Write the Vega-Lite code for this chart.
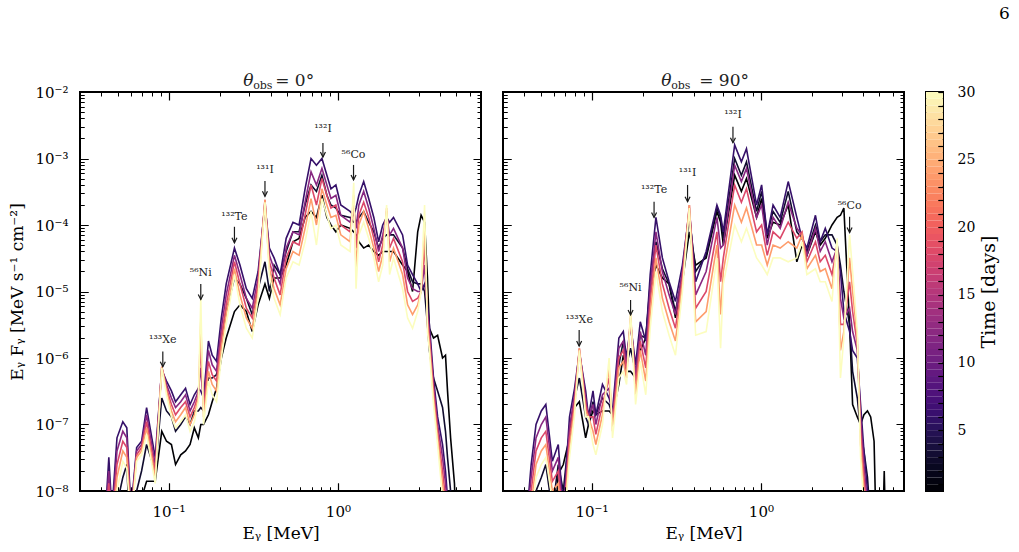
{
"$schema":"https://vega.github.io/schema/vega-lite/v6.json",
"padding":{"left":7,"top":5,"right":5,"bottom":5},
"title":{"text":"6","anchor":"end","font":"DejaVu Serif","fontSize":17,"fontWeight":"normal","color":"black","offset":48,"dx":10},
"config":{"view":{"stroke":"black","strokeWidth":2},"font":"DejaVu Serif","axis":{"domain":false,"labelColor":"black","titleColor":"black","labelFont":"DejaVu Serif","titleFont":"DejaVu Serif","titleFontWeight":"normal"}},
"spacing":22,
"bounds":"flush",
"datasets":{
"L":[
{"t":0.5,"e":0.042,"f":3e-10},{"t":3,"e":0.042,"f":3e-10},{"t":6,"e":0.042,"f":3e-9},{"t":12,"e":0.042,"f":3e-9},{"t":18,"e":0.042,"f":3e-9},{"t":24,"e":0.042,"f":3e-9},{"t":30,"e":0.042,"f":3e-9},
{"t":6,"e":0.0444,"f":3.2e-8},{"t":12,"e":0.0444,"f":2e-8},{"t":18,"e":0.0444,"f":1.3e-8},{"t":24,"e":0.0444,"f":7.9e-9},{"t":30,"e":0.0444,"f":5e-9},
{"t":6,"e":0.0463,"f":5e-9},{"t":12,"e":0.0463,"f":4e-9},{"t":18,"e":0.0463,"f":3.2e-9},{"t":24,"e":0.0463,"f":2.5e-9},{"t":30,"e":0.0463,"f":2e-9},
{"t":3,"e":0.0496,"f":6.3e-9},{"t":6,"e":0.0496,"f":6.3e-8},{"t":12,"e":0.0496,"f":4e-8},{"t":18,"e":0.0496,"f":2.5e-8},{"t":24,"e":0.0496,"f":1.6e-8},{"t":30,"e":0.0496,"f":1e-8},
{"t":3,"e":0.0537,"f":1.6e-8},{"t":6,"e":0.0537,"f":1.1e-7},{"t":12,"e":0.0537,"f":7.9e-8},{"t":18,"e":0.0537,"f":5.6e-8},{"t":24,"e":0.0537,"f":4e-8},{"t":30,"e":0.0537,"f":2.8e-8},
{"t":3,"e":0.0567,"f":2.5e-8},{"t":6,"e":0.0567,"f":8.9e-8},{"t":12,"e":0.0567,"f":6.3e-8},{"t":18,"e":0.0567,"f":4.5e-8},{"t":24,"e":0.0567,"f":3.2e-8},{"t":30,"e":0.0567,"f":2.2e-8},
{"t":3,"e":0.06,"f":1e-9},{"t":6,"e":0.06,"f":5e-9},{"t":12,"e":0.06,"f":4.5e-9},{"t":18,"e":0.06,"f":4e-9},{"t":24,"e":0.06,"f":3.5e-9},{"t":30,"e":0.06,"f":3.2e-9},
{"t":0.5,"e":0.0648,"f":1e-9},{"t":3,"e":0.0648,"f":1e-8},{"t":6,"e":0.0648,"f":4.5e-8},{"t":12,"e":0.0648,"f":4e-8},{"t":18,"e":0.0648,"f":3.5e-8},{"t":24,"e":0.0648,"f":3.2e-8},{"t":30,"e":0.0648,"f":2.8e-8},
{"t":0.5,"e":0.0693,"f":7.9e-9},{"t":3,"e":0.0693,"f":2e-8},{"t":6,"e":0.0693,"f":5.6e-8},{"t":12,"e":0.0693,"f":5e-8},{"t":18,"e":0.0693,"f":4.5e-8},{"t":24,"e":0.0693,"f":4e-8},{"t":30,"e":0.0693,"f":3.5e-8},
{"t":0.5,"e":0.0742,"f":1.4e-8},{"t":3,"e":0.0742,"f":5e-8},{"t":6,"e":0.0742,"f":1.8e-7},{"t":12,"e":0.0742,"f":1.4e-7},{"t":18,"e":0.0742,"f":1.1e-7},{"t":24,"e":0.0742,"f":8.9e-8},{"t":30,"e":0.0742,"f":7.1e-8},
{"t":0.5,"e":0.0834,"f":1.4e-8},{"t":3,"e":0.0834,"f":2e-8},{"t":6,"e":0.0834,"f":3.2e-8},{"t":12,"e":0.0834,"f":2.5e-8},{"t":18,"e":0.0834,"f":2e-8},{"t":24,"e":0.0834,"f":1.6e-8},{"t":30,"e":0.0834,"f":1.3e-8},
{"t":0.5,"e":0.0912,"f":7.9e-8},{"t":3,"e":0.0912,"f":2.5e-7},{"t":6,"e":0.0912,"f":6.6e-7},{"t":12,"e":0.0912,"f":7.1e-7},{"t":18,"e":0.0912,"f":7.4e-7},{"t":24,"e":0.0912,"f":7.4e-7},{"t":30,"e":0.0912,"f":7.1e-7},
{"t":0.5,"e":0.0973,"f":5.6e-8},{"t":3,"e":0.0973,"f":1.6e-7},{"t":6,"e":0.0973,"f":4.5e-7},{"t":12,"e":0.0973,"f":4e-7},{"t":18,"e":0.0973,"f":3.5e-7},{"t":24,"e":0.0973,"f":3.2e-7},{"t":30,"e":0.0973,"f":2.8e-7},
{"t":0.5,"e":0.104,"f":5e-8},{"t":3,"e":0.104,"f":1.3e-7},{"t":6,"e":0.104,"f":3.2e-7},{"t":12,"e":0.104,"f":2.5e-7},{"t":18,"e":0.104,"f":2e-7},{"t":24,"e":0.104,"f":1.6e-7},{"t":30,"e":0.104,"f":1.3e-7},
{"t":0.5,"e":0.11,"f":2.5e-8},{"t":3,"e":0.11,"f":7.9e-8},{"t":6,"e":0.11,"f":2.2e-7},{"t":12,"e":0.11,"f":1.8e-7},{"t":18,"e":0.11,"f":1.4e-7},{"t":24,"e":0.11,"f":1.1e-7},{"t":30,"e":0.11,"f":8.9e-8},
{"t":0.5,"e":0.118,"f":3.5e-8},{"t":3,"e":0.118,"f":1e-7},{"t":6,"e":0.118,"f":2.8e-7},{"t":12,"e":0.118,"f":2.2e-7},{"t":18,"e":0.118,"f":1.8e-7},{"t":24,"e":0.118,"f":1.4e-7},{"t":30,"e":0.118,"f":1.1e-7},
{"t":0.5,"e":0.126,"f":4e-8},{"t":3,"e":0.126,"f":1.3e-7},{"t":6,"e":0.126,"f":3.5e-7},{"t":12,"e":0.126,"f":2.8e-7},{"t":18,"e":0.126,"f":2.2e-7},{"t":24,"e":0.126,"f":1.8e-7},{"t":30,"e":0.126,"f":1.4e-7},
{"t":0.5,"e":0.134,"f":5e-8},{"t":3,"e":0.134,"f":1e-7},{"t":6,"e":0.134,"f":2e-7},{"t":12,"e":0.134,"f":1.6e-7},{"t":18,"e":0.134,"f":1.3e-7},{"t":24,"e":0.134,"f":1e-7},{"t":30,"e":0.134,"f":7.9e-8},
{"t":0.5,"e":0.142,"f":8.9e-8},{"t":3,"e":0.142,"f":1.6e-7},{"t":6,"e":0.142,"f":2.8e-7},{"t":12,"e":0.142,"f":2.2e-7},{"t":18,"e":0.142,"f":1.8e-7},{"t":24,"e":0.142,"f":1.4e-7},{"t":30,"e":0.142,"f":1.1e-7},
{"t":0.5,"e":0.15,"f":6.3e-8},{"t":3,"e":0.15,"f":1.6e-7},{"t":6,"e":0.15,"f":3.5e-7},{"t":12,"e":0.15,"f":3.2e-7},{"t":18,"e":0.15,"f":2.8e-7},{"t":24,"e":0.15,"f":2.5e-7},{"t":30,"e":0.15,"f":2.2e-7},
{"t":0.5,"e":0.155,"f":1e-7},{"t":3,"e":0.155,"f":1.8e-7},{"t":6,"e":0.155,"f":3.2e-7},{"t":12,"e":0.155,"f":7.1e-7},{"t":18,"e":0.155,"f":1.6e-6},{"t":24,"e":0.155,"f":3.5e-6},{"t":30,"e":0.155,"f":7.9e-6},
{"t":0.5,"e":0.161,"f":1e-7},{"t":3,"e":0.161,"f":1.6e-7},{"t":6,"e":0.161,"f":2.5e-7},{"t":12,"e":0.161,"f":2e-7},{"t":18,"e":0.161,"f":1.6e-7},{"t":24,"e":0.161,"f":1.3e-7},{"t":30,"e":0.161,"f":1e-7},
{"t":0.5,"e":0.172,"f":1.4e-7},{"t":3,"e":0.172,"f":5e-7},{"t":6,"e":0.172,"f":1.8e-6},{"t":12,"e":0.172,"f":1.3e-6},{"t":18,"e":0.172,"f":8.9e-7},{"t":24,"e":0.172,"f":6.3e-7},{"t":30,"e":0.172,"f":4.5e-7},
{"t":0.5,"e":0.181,"f":2.2e-7},{"t":3,"e":0.181,"f":5e-7},{"t":6,"e":0.181,"f":1.1e-6},{"t":12,"e":0.181,"f":7.9e-7},{"t":18,"e":0.181,"f":5.6e-7},{"t":24,"e":0.181,"f":4e-7},{"t":30,"e":0.181,"f":2.8e-7},
{"t":0.5,"e":0.192,"f":3.5e-7},{"t":3,"e":0.192,"f":5.6e-7},{"t":6,"e":0.192,"f":8.9e-7},{"t":12,"e":0.192,"f":6.3e-7},{"t":18,"e":0.192,"f":4.5e-7},{"t":24,"e":0.192,"f":3.2e-7},{"t":30,"e":0.192,"f":2.2e-7},
{"t":0.5,"e":0.205,"f":1e-6},{"t":3,"e":0.205,"f":2e-6},{"t":6,"e":0.205,"f":4e-6},{"t":12,"e":0.205,"f":2.8e-6},{"t":18,"e":0.205,"f":2e-6},{"t":24,"e":0.205,"f":1.4e-6},{"t":30,"e":0.205,"f":1e-6},
{"t":0.5,"e":0.219,"f":2e-6},{"t":3,"e":0.219,"f":5e-6},{"t":6,"e":0.219,"f":1.3e-5},{"t":12,"e":0.219,"f":8.9e-6},{"t":18,"e":0.219,"f":6.3e-6},{"t":24,"e":0.219,"f":4.5e-6},{"t":30,"e":0.219,"f":3.2e-6},
{"t":0.5,"e":0.245,"f":5e-6},{"t":3,"e":0.245,"f":1.6e-5},{"t":6,"e":0.245,"f":4.5e-5},{"t":12,"e":0.245,"f":3.5e-5},{"t":18,"e":0.245,"f":2.8e-5},{"t":24,"e":0.245,"f":2.2e-5},{"t":30,"e":0.245,"f":1.8e-5},
{"t":0.5,"e":0.264,"f":6.3e-6},{"t":3,"e":0.264,"f":1.3e-5},{"t":6,"e":0.264,"f":2.5e-5},{"t":12,"e":0.264,"f":1.8e-5},{"t":18,"e":0.264,"f":1.3e-5},{"t":24,"e":0.264,"f":8.9e-6},{"t":30,"e":0.264,"f":6.3e-6},
{"t":0.5,"e":0.288,"f":5e-6},{"t":3,"e":0.288,"f":7.9e-6},{"t":6,"e":0.288,"f":1.1e-5},{"t":12,"e":0.288,"f":7.9e-6},{"t":18,"e":0.288,"f":5.6e-6},{"t":24,"e":0.288,"f":4e-6},{"t":30,"e":0.288,"f":2.8e-6},
{"t":0.5,"e":0.312,"f":2.5e-6},{"t":3,"e":0.312,"f":4.5e-6},{"t":6,"e":0.312,"f":7.9e-6},{"t":12,"e":0.312,"f":5.6e-6},{"t":18,"e":0.312,"f":4e-6},{"t":24,"e":0.312,"f":2.8e-6},{"t":30,"e":0.312,"f":2e-6},
{"t":0.5,"e":0.338,"f":6.3e-6},{"t":3,"e":0.338,"f":1.1e-5},{"t":6,"e":0.338,"f":2e-5},{"t":12,"e":0.338,"f":1.6e-5},{"t":18,"e":0.338,"f":1.3e-5},{"t":24,"e":0.338,"f":1e-5},{"t":30,"e":0.338,"f":7.9e-6},
{"t":0.5,"e":0.371,"f":1.3e-5},{"t":3,"e":0.371,"f":2.8e-5},{"t":6,"e":0.371,"f":2e-4},{"t":12,"e":0.371,"f":2.2e-4},{"t":18,"e":0.371,"f":2.4e-4},{"t":24,"e":0.371,"f":2.4e-4},{"t":30,"e":0.371,"f":2.2e-4},
{"t":0.5,"e":0.394,"f":7.9e-6},{"t":3,"e":0.394,"f":1e-5},{"t":6,"e":0.394,"f":4.5e-5},{"t":12,"e":0.394,"f":3.5e-5},{"t":18,"e":0.394,"f":2.8e-5},{"t":24,"e":0.394,"f":2.2e-5},{"t":30,"e":0.394,"f":1.8e-5},
{"t":0.5,"e":0.42,"f":1.6e-5},{"t":3,"e":0.42,"f":2.5e-5},{"t":6,"e":0.42,"f":3.2e-5},{"t":12,"e":0.42,"f":2.2e-5},{"t":18,"e":0.42,"f":1.6e-5},{"t":24,"e":0.42,"f":1.1e-5},{"t":30,"e":0.42,"f":7.9e-6},
{"t":0.5,"e":0.456,"f":1.6e-5},{"t":3,"e":0.456,"f":1.8e-5},{"t":6,"e":0.456,"f":1.8e-5},{"t":12,"e":0.456,"f":1.3e-5},{"t":18,"e":0.456,"f":8.9e-6},{"t":24,"e":0.456,"f":6.3e-6},{"t":30,"e":0.456,"f":4.5e-6},
{"t":0.5,"e":0.495,"f":2.5e-5},{"t":3,"e":0.495,"f":4e-5},{"t":6,"e":0.495,"f":6.3e-5},{"t":12,"e":0.495,"f":4.5e-5},{"t":18,"e":0.495,"f":3.2e-5},{"t":24,"e":0.495,"f":2.2e-5},{"t":30,"e":0.495,"f":1.6e-5},
{"t":0.5,"e":0.543,"f":5.6e-5},{"t":3,"e":0.543,"f":7.9e-5},{"t":6,"e":0.543,"f":1.1e-4},{"t":12,"e":0.543,"f":7.9e-5},{"t":18,"e":0.543,"f":5.6e-5},{"t":24,"e":0.543,"f":4e-5},{"t":30,"e":0.543,"f":2.8e-5},
{"t":0.5,"e":0.59,"f":6.3e-5},{"t":3,"e":0.59,"f":7.9e-5},{"t":6,"e":0.59,"f":1e-4},{"t":12,"e":0.59,"f":7.1e-5},{"t":18,"e":0.59,"f":5e-5},{"t":24,"e":0.59,"f":3.5e-5},{"t":30,"e":0.59,"f":2.5e-5},
{"t":0.5,"e":0.64,"f":1.3e-4},{"t":3,"e":0.64,"f":2e-4},{"t":6,"e":0.64,"f":3.5e-4},{"t":12,"e":0.64,"f":2.2e-4},{"t":18,"e":0.64,"f":1.4e-4},{"t":24,"e":0.64,"f":8.9e-5},{"t":30,"e":0.64,"f":5.6e-5},
{"t":0.5,"e":0.694,"f":1.6e-4},{"t":3,"e":0.694,"f":4e-4},{"t":6,"e":0.694,"f":1e-3},{"t":12,"e":0.694,"f":6.3e-4},{"t":18,"e":0.694,"f":4e-4},{"t":24,"e":0.694,"f":2.5e-4},{"t":30,"e":0.694,"f":1.6e-4},
{"t":0.5,"e":0.747,"f":1.3e-4},{"t":3,"e":0.747,"f":3.2e-4},{"t":6,"e":0.747,"f":7.9e-4},{"t":12,"e":0.747,"f":4e-4},{"t":18,"e":0.747,"f":2e-4},{"t":24,"e":0.747,"f":1e-4},{"t":30,"e":0.747,"f":5e-5},
{"t":0.5,"e":0.805,"f":2.8e-4},{"t":3,"e":0.805,"f":5.6e-4},{"t":6,"e":0.805,"f":1e-3},{"t":12,"e":0.805,"f":7.1e-4},{"t":18,"e":0.805,"f":5e-4},{"t":24,"e":0.805,"f":3.5e-4},{"t":30,"e":0.805,"f":2.5e-4},
{"t":0.5,"e":0.861,"f":1.3e-4},{"t":3,"e":0.861,"f":2.8e-4},{"t":6,"e":0.861,"f":5.6e-4},{"t":12,"e":0.861,"f":4e-4},{"t":18,"e":0.861,"f":2.8e-4},{"t":24,"e":0.861,"f":2e-4},{"t":30,"e":0.861,"f":1.4e-4},
{"t":0.5,"e":0.91,"f":1e-4},{"t":3,"e":0.91,"f":2e-4},{"t":6,"e":0.91,"f":3.5e-4},{"t":12,"e":0.91,"f":2.5e-4},{"t":18,"e":0.91,"f":1.8e-4},{"t":24,"e":0.91,"f":1.3e-4},{"t":30,"e":0.91,"f":8.9e-5},
{"t":0.5,"e":0.973,"f":7.9e-5},{"t":3,"e":0.973,"f":1.8e-4},{"t":6,"e":0.973,"f":4e-4},{"t":12,"e":0.973,"f":2.8e-4},{"t":18,"e":0.973,"f":2e-4},{"t":24,"e":0.973,"f":1.4e-4},{"t":30,"e":0.973,"f":1e-4},
{"t":0.5,"e":1.04,"f":1e-4},{"t":3,"e":1.04,"f":1.4e-4},{"t":6,"e":1.04,"f":2e-4},{"t":12,"e":1.04,"f":1.4e-4},{"t":18,"e":1.04,"f":1e-4},{"t":24,"e":1.04,"f":7.1e-5},{"t":30,"e":1.04,"f":5e-5},
{"t":0.5,"e":1.18,"f":8.9e-5},{"t":3,"e":1.18,"f":1.3e-4},{"t":6,"e":1.18,"f":1.6e-4},{"t":12,"e":1.18,"f":1.1e-4},{"t":18,"e":1.18,"f":7.9e-5},{"t":24,"e":1.18,"f":5.6e-5},{"t":30,"e":1.18,"f":4e-5},
{"t":0.5,"e":1.24,"f":7.9e-5},{"t":3,"e":1.24,"f":1.1e-4},{"t":6,"e":1.24,"f":1.4e-4},{"t":12,"e":1.24,"f":1.8e-4},{"t":18,"e":1.24,"f":2.2e-4},{"t":24,"e":1.24,"f":2.8e-4},{"t":30,"e":1.24,"f":4.3e-4},
{"t":0.5,"e":1.28,"f":7.1e-5},{"t":3,"e":1.28,"f":1.1e-4},{"t":6,"e":1.28,"f":1.8e-4},{"t":12,"e":1.28,"f":8.9e-5},{"t":18,"e":1.28,"f":4.5e-5},{"t":24,"e":1.28,"f":2.2e-5},{"t":30,"e":1.28,"f":1.1e-5},
{"t":0.5,"e":1.33,"f":5.6e-5},{"t":3,"e":1.33,"f":1.3e-4},{"t":6,"e":1.33,"f":2.8e-4},{"t":12,"e":1.33,"f":2e-4},{"t":18,"e":1.33,"f":1.4e-4},{"t":24,"e":1.33,"f":1e-4},{"t":30,"e":1.33,"f":7.1e-5},
{"t":0.5,"e":1.42,"f":4.5e-5},{"t":3,"e":1.42,"f":1.6e-4},{"t":6,"e":1.42,"f":4.5e-4},{"t":12,"e":1.42,"f":3.2e-4},{"t":18,"e":1.42,"f":2.2e-4},{"t":24,"e":1.42,"f":1.6e-4},{"t":30,"e":1.42,"f":1.1e-4},
{"t":0.5,"e":1.52,"f":5e-5},{"t":3,"e":1.52,"f":1.1e-4},{"t":6,"e":1.52,"f":2.5e-4},{"t":12,"e":1.52,"f":1.8e-4},{"t":18,"e":1.52,"f":1.3e-4},{"t":24,"e":1.52,"f":8.9e-5},{"t":30,"e":1.52,"f":6.3e-5},
{"t":0.5,"e":1.63,"f":4e-5},{"t":3,"e":1.63,"f":7.9e-5},{"t":6,"e":1.63,"f":1.3e-4},{"t":12,"e":1.63,"f":8.9e-5},{"t":18,"e":1.63,"f":6.3e-5},{"t":24,"e":1.63,"f":4.5e-5},{"t":30,"e":1.63,"f":3.2e-5},
{"t":0.5,"e":1.74,"f":3.5e-5},{"t":3,"e":1.74,"f":4.5e-5},{"t":6,"e":1.74,"f":5.6e-5},{"t":12,"e":1.74,"f":4e-5},{"t":18,"e":1.74,"f":2.8e-5},{"t":24,"e":1.74,"f":2e-5},{"t":30,"e":1.74,"f":1.4e-5},
{"t":0.5,"e":1.84,"f":4e-5},{"t":3,"e":1.84,"f":6.3e-5},{"t":6,"e":1.84,"f":1e-4},{"t":12,"e":1.84,"f":7.1e-5},{"t":18,"e":1.84,"f":5e-5},{"t":24,"e":1.84,"f":3.5e-5},{"t":30,"e":1.84,"f":2.5e-5},
{"t":0.5,"e":1.94,"f":4e-5},{"t":3,"e":1.94,"f":7.1e-5},{"t":6,"e":1.94,"f":1.3e-4},{"t":12,"e":1.94,"f":1.4e-4},{"t":18,"e":1.94,"f":1.6e-4},{"t":24,"e":1.94,"f":1.8e-4},{"t":30,"e":1.94,"f":2e-4},
{"t":0.5,"e":2.02,"f":4e-5},{"t":3,"e":2.02,"f":7.1e-5},{"t":6,"e":2.02,"f":1.1e-4},{"t":12,"e":2.02,"f":7.1e-5},{"t":18,"e":2.02,"f":4.5e-5},{"t":24,"e":2.02,"f":2.8e-5},{"t":30,"e":2.02,"f":1.8e-5},
{"t":0.5,"e":2.13,"f":4e-5},{"t":3,"e":2.13,"f":7.1e-5},{"t":6,"e":2.13,"f":1.3e-4},{"t":12,"e":2.13,"f":8.9e-5},{"t":18,"e":2.13,"f":6.3e-5},{"t":24,"e":2.13,"f":4.5e-5},{"t":30,"e":2.13,"f":3.2e-5},
{"t":0.5,"e":2.41,"f":2.5e-5},{"t":3,"e":2.41,"f":4.5e-5},{"t":6,"e":2.41,"f":7.1e-5},{"t":12,"e":2.41,"f":4.5e-5},{"t":18,"e":2.41,"f":2.8e-5},{"t":24,"e":2.41,"f":1.8e-5},{"t":30,"e":2.41,"f":1.1e-5},
{"t":0.5,"e":2.58,"f":2e-5},{"t":3,"e":2.58,"f":2.2e-5},{"t":6,"e":2.58,"f":2.5e-5},{"t":12,"e":2.58,"f":1.6e-5},{"t":18,"e":2.58,"f":1e-5},{"t":24,"e":2.58,"f":6.3e-6},{"t":30,"e":2.58,"f":4e-6},
{"t":0.5,"e":2.76,"f":1e-5},{"t":3,"e":2.76,"f":1.4e-5},{"t":6,"e":2.76,"f":1.8e-5},{"t":12,"e":2.76,"f":1.1e-5},{"t":18,"e":2.76,"f":7.1e-6},{"t":24,"e":2.76,"f":4.5e-6},{"t":30,"e":2.76,"f":2.8e-6},
{"t":0.5,"e":2.96,"f":7.9e-5},{"t":3,"e":2.96,"f":1.3e-5},{"t":6,"e":2.96,"f":1.3e-5},{"t":12,"e":2.96,"f":1e-5},{"t":18,"e":2.96,"f":7.9e-6},{"t":24,"e":2.96,"f":6.3e-6},{"t":30,"e":2.96,"f":5e-6},
{"t":0.5,"e":3.1,"f":1.4e-4},{"t":3,"e":3.1,"f":1.3e-5},{"t":6,"e":3.1,"f":1e-5},{"t":12,"e":3.1,"f":1e-5},{"t":18,"e":3.1,"f":1e-5},{"t":24,"e":3.1,"f":1e-5},{"t":30,"e":3.1,"f":1e-5},
{"t":0.5,"e":3.25,"f":1.1e-4},{"t":3,"e":3.25,"f":1e-5},{"t":6,"e":3.25,"f":1.3e-5},{"t":12,"e":3.25,"f":2.5e-5},{"t":18,"e":3.25,"f":5e-5},{"t":24,"e":3.25,"f":1e-4},{"t":30,"e":3.25,"f":2e-4},
{"t":0.5,"e":3.38,"f":1.6e-5},{"t":3,"e":3.38,"f":3.2e-6},{"t":6,"e":3.38,"f":6.3e-6},{"t":12,"e":3.38,"f":5e-6},{"t":18,"e":3.38,"f":4e-6},{"t":24,"e":3.38,"f":3.2e-6},{"t":30,"e":3.38,"f":2.5e-6},
{"t":0.5,"e":3.47,"f":2.8e-6},{"t":3,"e":3.47,"f":1.3e-6},{"t":6,"e":3.47,"f":3.2e-6},{"t":12,"e":3.47,"f":2.5e-6},{"t":18,"e":3.47,"f":2e-6},{"t":24,"e":3.47,"f":1.6e-6},{"t":30,"e":3.47,"f":1.3e-6},
{"t":0.5,"e":3.67,"f":2e-6},{"t":3,"e":3.67,"f":5e-7},{"t":6,"e":3.67,"f":5e-7},{"t":12,"e":3.67,"f":4e-7},{"t":18,"e":3.67,"f":3.2e-7},{"t":24,"e":3.67,"f":2.5e-7},{"t":30,"e":3.67,"f":2e-7},
{"t":0.5,"e":3.88,"f":2.2e-6},{"t":3,"e":3.88,"f":3.2e-7},{"t":6,"e":3.88,"f":1.3e-7},{"t":12,"e":3.88,"f":1e-7},{"t":18,"e":3.88,"f":7.9e-8},{"t":24,"e":3.88,"f":6.3e-8},{"t":30,"e":3.88,"f":5e-8},
{"t":0.5,"e":4.15,"f":1e-6},{"t":3,"e":4.15,"f":1.8e-7},{"t":6,"e":4.15,"f":5e-8},{"t":12,"e":4.15,"f":3.2e-8},{"t":18,"e":4.15,"f":2e-8},{"t":24,"e":4.15,"f":1.3e-8},{"t":30,"e":4.15,"f":7.9e-9},
{"t":0.5,"e":4.32,"f":1.1e-6},{"t":3,"e":4.32,"f":7.9e-8},{"t":6,"e":4.32,"f":2e-8},{"t":12,"e":4.32,"f":1.3e-8},{"t":18,"e":4.32,"f":7.9e-9},{"t":24,"e":4.32,"f":5e-9},{"t":30,"e":4.32,"f":3.2e-9},
{"t":0.5,"e":4.44,"f":3.2e-7},{"t":3,"e":4.44,"f":3.2e-8},{"t":6,"e":4.44,"f":7.9e-9},{"t":12,"e":4.44,"f":5.6e-9},{"t":18,"e":4.44,"f":4e-9},{"t":24,"e":4.44,"f":2.8e-9},{"t":30,"e":4.44,"f":2e-9},
{"t":0.5,"e":4.63,"f":6.3e-8},{"t":3,"e":4.63,"f":1e-8},
{"t":0.5,"e":4.88,"f":1.3e-8},{"t":3,"e":4.88,"f":1e-9},
{"t":0.5,"e":5.1,"f":3e-10}
],
"R":[
{"t":0.5,"e":0.041,"f":3e-10},{"t":3,"e":0.041,"f":3e-10},{"t":6,"e":0.041,"f":3e-9},{"t":12,"e":0.041,"f":3e-9},{"t":18,"e":0.041,"f":3e-9},{"t":24,"e":0.041,"f":3e-9},{"t":30,"e":0.041,"f":3e-9},
{"t":6,"e":0.044,"f":2.5e-8},{"t":12,"e":0.044,"f":1.6e-8},{"t":18,"e":0.044,"f":1e-8},{"t":24,"e":0.044,"f":6.3e-9},{"t":30,"e":0.044,"f":4e-9},
{"t":3,"e":0.047,"f":1e-8},{"t":6,"e":0.047,"f":1e-7},{"t":12,"e":0.047,"f":6.3e-8},{"t":18,"e":0.047,"f":4e-8},{"t":24,"e":0.047,"f":2.5e-8},{"t":30,"e":0.047,"f":1.6e-8},
{"t":3,"e":0.0505,"f":1.6e-8},{"t":6,"e":0.0505,"f":1.6e-7},{"t":12,"e":0.0505,"f":1e-7},{"t":18,"e":0.0505,"f":6.3e-8},{"t":24,"e":0.0505,"f":4e-8},{"t":30,"e":0.0505,"f":2.5e-8},
{"t":3,"e":0.0537,"f":2.5e-8},{"t":6,"e":0.0537,"f":2e-7},{"t":12,"e":0.0537,"f":1.3e-7},{"t":18,"e":0.0537,"f":7.9e-8},{"t":24,"e":0.0537,"f":5e-8},{"t":30,"e":0.0537,"f":3.2e-8},
{"t":0.5,"e":0.0587,"f":1e-9},{"t":3,"e":0.0587,"f":5e-9},{"t":6,"e":0.0587,"f":2.8e-8},{"t":12,"e":0.0587,"f":2e-8},{"t":18,"e":0.0587,"f":1.4e-8},{"t":24,"e":0.0587,"f":1e-8},{"t":30,"e":0.0587,"f":7.1e-9},
{"t":0.5,"e":0.0636,"f":1.8e-8},{"t":3,"e":0.0636,"f":2.5e-8},{"t":6,"e":0.0636,"f":5e-8},{"t":12,"e":0.0636,"f":3.2e-8},{"t":18,"e":0.0636,"f":2e-8},{"t":24,"e":0.0636,"f":1.3e-8},{"t":30,"e":0.0636,"f":7.9e-9},
{"t":0.5,"e":0.0681,"f":2.5e-8},{"t":3,"e":0.0681,"f":1e-8},{"t":6,"e":0.0681,"f":5e-9},{"t":12,"e":0.0681,"f":4e-9},{"t":18,"e":0.0681,"f":3.2e-9},{"t":24,"e":0.0681,"f":2.5e-9},{"t":30,"e":0.0681,"f":2e-9},
{"t":0.5,"e":0.0741,"f":6.3e-8},{"t":3,"e":0.0741,"f":7.9e-8},{"t":6,"e":0.0741,"f":1.3e-7},{"t":12,"e":0.0741,"f":8.9e-8},{"t":18,"e":0.0741,"f":6.3e-8},{"t":24,"e":0.0741,"f":4.5e-8},{"t":30,"e":0.0741,"f":3.2e-8},
{"t":0.5,"e":0.0794,"f":1.8e-7},{"t":3,"e":0.0794,"f":2.5e-7},{"t":6,"e":0.0794,"f":3.5e-7},{"t":12,"e":0.0794,"f":2.8e-7},{"t":18,"e":0.0794,"f":2.2e-7},{"t":24,"e":0.0794,"f":1.8e-7},{"t":30,"e":0.0794,"f":1.4e-7},
{"t":0.5,"e":0.0847,"f":2.2e-7},{"t":3,"e":0.0847,"f":5e-7},{"t":6,"e":0.0847,"f":1.2e-6},{"t":12,"e":0.0847,"f":1.3e-6},{"t":18,"e":0.0847,"f":1.4e-6},{"t":24,"e":0.0847,"f":1.4e-6},{"t":30,"e":0.0847,"f":1.3e-6},
{"t":0.5,"e":0.0923,"f":6.3e-8},{"t":3,"e":0.0923,"f":1.3e-7},{"t":6,"e":0.0923,"f":3.2e-7},{"t":12,"e":0.0923,"f":2.5e-7},{"t":18,"e":0.0923,"f":2e-7},{"t":24,"e":0.0923,"f":1.6e-7},{"t":30,"e":0.0923,"f":1.3e-7},
{"t":0.5,"e":0.0959,"f":1e-7},{"t":3,"e":0.0959,"f":1e-7},{"t":6,"e":0.0959,"f":1.3e-7},{"t":12,"e":0.0959,"f":1.3e-7},{"t":18,"e":0.0959,"f":1.3e-7},{"t":24,"e":0.0959,"f":1.3e-7},{"t":30,"e":0.0959,"f":1.3e-7},
{"t":0.5,"e":0.102,"f":1.6e-7},{"t":3,"e":0.102,"f":2.2e-7},{"t":6,"e":0.102,"f":3.2e-7},{"t":12,"e":0.102,"f":2e-7},{"t":18,"e":0.102,"f":1.3e-7},{"t":24,"e":0.102,"f":7.9e-8},{"t":30,"e":0.102,"f":5e-8},
{"t":0.5,"e":0.106,"f":1.4e-7},{"t":3,"e":0.106,"f":1.4e-7},{"t":6,"e":0.106,"f":1.4e-7},{"t":12,"e":0.106,"f":1e-7},{"t":18,"e":0.106,"f":7.1e-8},{"t":24,"e":0.106,"f":5e-8},{"t":30,"e":0.106,"f":3.5e-8},
{"t":0.5,"e":0.116,"f":1.6e-7},{"t":3,"e":0.116,"f":2.5e-7},{"t":6,"e":0.116,"f":4e-7},{"t":12,"e":0.116,"f":2.8e-7},{"t":18,"e":0.116,"f":2e-7},{"t":24,"e":0.116,"f":1.4e-7},{"t":30,"e":0.116,"f":1e-7},
{"t":0.5,"e":0.127,"f":1.6e-7},{"t":3,"e":0.127,"f":2e-7},{"t":6,"e":0.127,"f":2.5e-7},{"t":12,"e":0.127,"f":3.5e-7},{"t":18,"e":0.127,"f":5e-7},{"t":24,"e":0.127,"f":7.1e-7},{"t":30,"e":0.127,"f":1e-6},
{"t":0.5,"e":0.133,"f":1.4e-7},{"t":3,"e":0.133,"f":1.4e-7},{"t":6,"e":0.133,"f":1.6e-7},{"t":12,"e":0.133,"f":1.3e-7},{"t":18,"e":0.133,"f":1e-7},{"t":24,"e":0.133,"f":7.9e-8},{"t":30,"e":0.133,"f":6.3e-8},
{"t":0.5,"e":0.145,"f":4e-7},{"t":3,"e":0.145,"f":7.9e-7},{"t":6,"e":0.145,"f":2e-6},{"t":12,"e":0.145,"f":1.4e-6},{"t":18,"e":0.145,"f":1e-6},{"t":24,"e":0.145,"f":7.1e-7},{"t":30,"e":0.145,"f":5e-7},
{"t":0.5,"e":0.154,"f":1.1e-6},{"t":3,"e":0.154,"f":1.8e-6},{"t":6,"e":0.154,"f":2.5e-6},{"t":12,"e":0.154,"f":1.8e-6},{"t":18,"e":0.154,"f":1.3e-6},{"t":24,"e":0.154,"f":8.9e-7},{"t":30,"e":0.154,"f":6.3e-7},
{"t":0.5,"e":0.161,"f":6.3e-7},{"t":3,"e":0.161,"f":7.9e-7},{"t":6,"e":0.161,"f":1e-6},{"t":12,"e":0.161,"f":7.9e-7},{"t":18,"e":0.161,"f":6.3e-7},{"t":24,"e":0.161,"f":5e-7},{"t":30,"e":0.161,"f":4e-7},
{"t":0.5,"e":0.17,"f":6.3e-7},{"t":3,"e":0.17,"f":1.4e-6},{"t":6,"e":0.17,"f":3.2e-6},{"t":12,"e":0.17,"f":3.5e-6},{"t":18,"e":0.17,"f":4e-6},{"t":24,"e":0.17,"f":4.5e-6},{"t":30,"e":0.17,"f":5e-6},
{"t":0.5,"e":0.182,"f":5e-7},{"t":3,"e":0.182,"f":6.3e-7},{"t":6,"e":0.182,"f":7.9e-7},{"t":12,"e":0.182,"f":5.6e-7},{"t":18,"e":0.182,"f":4e-7},{"t":24,"e":0.182,"f":2.8e-7},{"t":30,"e":0.182,"f":2e-7},
{"t":0.5,"e":0.194,"f":1.3e-6},{"t":3,"e":0.194,"f":2.2e-6},{"t":6,"e":0.194,"f":3.5e-6},{"t":12,"e":0.194,"f":2.5e-6},{"t":18,"e":0.194,"f":1.8e-6},{"t":24,"e":0.194,"f":1.3e-6},{"t":30,"e":0.194,"f":8.9e-7},
{"t":0.5,"e":0.209,"f":2e-6},{"t":3,"e":0.209,"f":2e-6},{"t":6,"e":0.209,"f":1.8e-6},{"t":12,"e":0.209,"f":1.1e-6},{"t":18,"e":0.209,"f":7.1e-7},{"t":24,"e":0.209,"f":4.5e-7},{"t":30,"e":0.209,"f":2.8e-7},
{"t":0.5,"e":0.222,"f":1e-5},{"t":3,"e":0.222,"f":1.3e-5},{"t":6,"e":0.222,"f":1.8e-5},{"t":12,"e":0.222,"f":1.1e-5},{"t":18,"e":0.222,"f":7.1e-6},{"t":24,"e":0.222,"f":4.5e-6},{"t":30,"e":0.222,"f":2.8e-6},
{"t":0.5,"e":0.24,"f":2.5e-5},{"t":3,"e":0.24,"f":5.6e-5},{"t":6,"e":0.24,"f":1.3e-4},{"t":12,"e":0.24,"f":7.9e-5},{"t":18,"e":0.24,"f":5e-5},{"t":24,"e":0.24,"f":3.2e-5},{"t":30,"e":0.24,"f":2e-5},
{"t":0.5,"e":0.262,"f":1.6e-5},{"t":3,"e":0.262,"f":2.2e-5},{"t":6,"e":0.262,"f":3.2e-5},{"t":12,"e":0.262,"f":2e-5},{"t":18,"e":0.262,"f":1.3e-5},{"t":24,"e":0.262,"f":7.9e-6},{"t":30,"e":0.262,"f":5e-6},
{"t":0.5,"e":0.287,"f":1.3e-5},{"t":3,"e":0.287,"f":1.3e-5},{"t":6,"e":0.287,"f":1.4e-5},{"t":12,"e":0.287,"f":8.9e-6},{"t":18,"e":0.287,"f":5.6e-6},{"t":24,"e":0.287,"f":3.5e-6},{"t":30,"e":0.287,"f":2.2e-6},
{"t":0.5,"e":0.313,"f":4e-6},{"t":3,"e":0.313,"f":5e-6},{"t":6,"e":0.313,"f":7.1e-6},{"t":12,"e":0.313,"f":4.5e-6},{"t":18,"e":0.313,"f":2.8e-6},{"t":24,"e":0.313,"f":1.8e-6},{"t":30,"e":0.313,"f":1.1e-6},
{"t":0.5,"e":0.344,"f":1.4e-5},{"t":3,"e":0.344,"f":1.8e-5},{"t":6,"e":0.344,"f":2.5e-5},{"t":12,"e":0.344,"f":2e-5},{"t":18,"e":0.344,"f":1.6e-5},{"t":24,"e":0.344,"f":1.3e-5},{"t":30,"e":0.344,"f":1e-5},
{"t":0.5,"e":0.378,"f":7.9e-5},{"t":3,"e":0.378,"f":1.3e-4},{"t":6,"e":0.378,"f":1.6e-4},{"t":12,"e":0.378,"f":1.8e-4},{"t":18,"e":0.378,"f":2e-4},{"t":24,"e":0.378,"f":2e-4},{"t":30,"e":0.378,"f":1.8e-4},
{"t":0.5,"e":0.412,"f":2.5e-5},{"t":3,"e":0.412,"f":2e-5},{"t":6,"e":0.412,"f":1.4e-5},{"t":12,"e":0.412,"f":8.9e-6},{"t":18,"e":0.412,"f":5.6e-6},{"t":24,"e":0.412,"f":3.5e-6},{"t":30,"e":0.412,"f":2.2e-6},
{"t":0.5,"e":0.475,"f":3.2e-5},{"t":3,"e":0.475,"f":3.5e-5},{"t":6,"e":0.475,"f":4e-5},{"t":12,"e":0.475,"f":2e-5},{"t":18,"e":0.475,"f":1e-5},{"t":24,"e":0.475,"f":5e-6},{"t":30,"e":0.475,"f":2.5e-6},
{"t":0.5,"e":0.55,"f":1.6e-4},{"t":3,"e":0.55,"f":1.8e-4},{"t":6,"e":0.55,"f":2e-4},{"t":12,"e":0.55,"f":1.3e-4},{"t":18,"e":0.55,"f":7.9e-5},{"t":24,"e":0.55,"f":5e-5},{"t":30,"e":0.55,"f":3.2e-5},
{"t":0.5,"e":0.578,"f":1.1e-4},{"t":3,"e":0.578,"f":1.3e-4},{"t":6,"e":0.578,"f":1.4e-4},{"t":12,"e":0.578,"f":4.5e-5},{"t":18,"e":0.578,"f":1.4e-5},{"t":24,"e":0.578,"f":4.5e-6},{"t":30,"e":0.578,"f":1.4e-6},
{"t":0.5,"e":0.6,"f":5e-5},{"t":3,"e":0.6,"f":6.3e-5},{"t":6,"e":0.6,"f":7.9e-5},{"t":12,"e":0.6,"f":5e-5},{"t":18,"e":0.6,"f":3.2e-5},{"t":24,"e":0.6,"f":2e-5},{"t":30,"e":0.6,"f":1.3e-5},
{"t":0.5,"e":0.7,"f":5.6e-4},{"t":3,"e":0.7,"f":1e-3},{"t":6,"e":0.7,"f":1.6e-3},{"t":12,"e":0.7,"f":7.9e-4},{"t":18,"e":0.7,"f":4e-4},{"t":24,"e":0.7,"f":2e-4},{"t":30,"e":0.7,"f":1e-4},
{"t":0.5,"e":0.767,"f":3.2e-4},{"t":3,"e":0.767,"f":5.6e-4},{"t":6,"e":0.767,"f":8.9e-4},{"t":12,"e":0.767,"f":4.5e-4},{"t":18,"e":0.767,"f":2.2e-4},{"t":24,"e":0.767,"f":1.1e-4},{"t":30,"e":0.767,"f":5.6e-5},
{"t":0.5,"e":0.822,"f":5e-4},{"t":3,"e":0.822,"f":8.9e-4},{"t":6,"e":0.822,"f":1.4e-3},{"t":12,"e":0.822,"f":7.1e-4},{"t":18,"e":0.822,"f":3.5e-4},{"t":24,"e":0.822,"f":1.8e-4},{"t":30,"e":0.822,"f":8.9e-5},
{"t":0.5,"e":0.943,"f":1.3e-4},{"t":3,"e":0.943,"f":1.6e-4},{"t":6,"e":0.943,"f":2e-4},{"t":12,"e":0.943,"f":1.3e-4},{"t":18,"e":0.943,"f":7.9e-5},{"t":24,"e":0.943,"f":5e-5},{"t":30,"e":0.943,"f":3.2e-5},
{"t":0.5,"e":1.01,"f":2.5e-4},{"t":3,"e":1.01,"f":3.2e-4},{"t":6,"e":1.01,"f":4e-4},{"t":12,"e":1.01,"f":2e-4},{"t":18,"e":1.01,"f":1e-4},{"t":24,"e":1.01,"f":5e-5},{"t":30,"e":1.01,"f":2.5e-5},
{"t":0.5,"e":1.09,"f":6.3e-5},{"t":3,"e":1.09,"f":7.1e-5},{"t":6,"e":1.09,"f":7.1e-5},{"t":12,"e":1.09,"f":5e-5},{"t":18,"e":1.09,"f":3.5e-5},{"t":24,"e":1.09,"f":2.5e-5},{"t":30,"e":1.09,"f":1.8e-5},
{"t":0.5,"e":1.18,"f":1.1e-4},{"t":3,"e":1.18,"f":1.6e-4},{"t":6,"e":1.18,"f":2e-4},{"t":12,"e":1.18,"f":1.3e-4},{"t":18,"e":1.18,"f":7.9e-5},{"t":24,"e":1.18,"f":5e-5},{"t":30,"e":1.18,"f":3.2e-5},
{"t":0.5,"e":1.3,"f":1e-4},{"t":3,"e":1.3,"f":1.1e-4},{"t":6,"e":1.3,"f":1.3e-4},{"t":12,"e":1.3,"f":8.9e-5},{"t":18,"e":1.3,"f":6.3e-5},{"t":24,"e":1.3,"f":4.5e-5},{"t":30,"e":1.3,"f":3.2e-5},
{"t":0.5,"e":1.45,"f":2e-4},{"t":3,"e":1.45,"f":3.2e-4},{"t":6,"e":1.45,"f":4.5e-4},{"t":12,"e":1.45,"f":2.2e-4},{"t":18,"e":1.45,"f":1.1e-4},{"t":24,"e":1.45,"f":5.6e-5},{"t":30,"e":1.45,"f":2.8e-5},
{"t":0.5,"e":1.63,"f":2.8e-5},{"t":3,"e":1.63,"f":7.9e-5},{"t":6,"e":1.63,"f":1.3e-4},{"t":12,"e":1.63,"f":8.9e-5},{"t":18,"e":1.63,"f":6.3e-5},{"t":24,"e":1.63,"f":4.5e-5},{"t":30,"e":1.63,"f":3.2e-5},
{"t":0.5,"e":1.75,"f":5e-5},{"t":3,"e":1.75,"f":6.3e-5},{"t":6,"e":1.75,"f":6.3e-5},{"t":12,"e":1.75,"f":7.1e-5},{"t":18,"e":1.75,"f":7.9e-5},{"t":24,"e":1.75,"f":7.1e-5},{"t":30,"e":1.75,"f":5.6e-5},
{"t":0.5,"e":1.87,"f":3.5e-5},{"t":3,"e":1.87,"f":4e-5},{"t":6,"e":1.87,"f":4.5e-5},{"t":12,"e":1.87,"f":3.5e-5},{"t":18,"e":1.87,"f":2.8e-5},{"t":24,"e":1.87,"f":2.2e-5},{"t":30,"e":1.87,"f":1.8e-5},
{"t":0.5,"e":2.1,"f":7.9e-5},{"t":3,"e":2.1,"f":1e-4},{"t":6,"e":2.1,"f":1.4e-4},{"t":12,"e":2.1,"f":8.9e-5},{"t":18,"e":2.1,"f":5.6e-5},{"t":24,"e":2.1,"f":3.5e-5},{"t":30,"e":2.1,"f":2.2e-5},
{"t":0.5,"e":2.24,"f":5e-5},{"t":3,"e":2.24,"f":5.6e-5},{"t":6,"e":2.24,"f":5.6e-5},{"t":12,"e":2.24,"f":4e-5},{"t":18,"e":2.24,"f":2.8e-5},{"t":24,"e":2.24,"f":2e-5},{"t":30,"e":2.24,"f":1.4e-5},
{"t":0.5,"e":2.4,"f":6.3e-5},{"t":3,"e":2.4,"f":7.1e-5},{"t":6,"e":2.4,"f":8.9e-5},{"t":12,"e":2.4,"f":5.6e-5},{"t":18,"e":2.4,"f":3.5e-5},{"t":24,"e":2.4,"f":2.2e-5},{"t":30,"e":2.4,"f":1.4e-5},
{"t":0.5,"e":2.63,"f":1e-4},{"t":3,"e":2.63,"f":7.1e-5},{"t":6,"e":2.63,"f":4.5e-5},{"t":12,"e":2.63,"f":2.8e-5},{"t":18,"e":2.63,"f":1.8e-5},{"t":24,"e":2.63,"f":1.1e-5},{"t":30,"e":2.63,"f":7.1e-6},
{"t":0.5,"e":2.82,"f":1.3e-4},{"t":3,"e":2.82,"f":5e-5},{"t":6,"e":2.82,"f":4e-5},{"t":12,"e":2.82,"f":4.5e-5},{"t":18,"e":2.82,"f":5e-5},{"t":24,"e":2.82,"f":5.6e-5},{"t":30,"e":2.82,"f":6.3e-5},
{"t":0.5,"e":2.95,"f":1.4e-4},{"t":3,"e":2.95,"f":2.5e-5},{"t":6,"e":2.95,"f":2e-5},{"t":12,"e":2.95,"f":7.9e-6},{"t":18,"e":2.95,"f":3.2e-6},{"t":24,"e":2.95,"f":1.3e-6},{"t":30,"e":2.95,"f":5e-7},
{"t":0.5,"e":3.09,"f":1.8e-4},{"t":3,"e":3.09,"f":1e-5},{"t":6,"e":3.09,"f":5e-6},{"t":12,"e":3.09,"f":4e-6},{"t":18,"e":3.09,"f":3.2e-6},{"t":24,"e":3.09,"f":2.5e-6},{"t":30,"e":3.09,"f":2e-6},
{"t":0.5,"e":3.34,"f":3.2e-6},{"t":3,"e":3.34,"f":3.2e-6},{"t":6,"e":3.34,"f":2.5e-6},{"t":12,"e":3.34,"f":5.6e-6},{"t":18,"e":3.34,"f":1.4e-5},{"t":24,"e":3.34,"f":3.2e-5},{"t":30,"e":3.34,"f":7.1e-5},
{"t":0.5,"e":3.48,"f":2e-7},{"t":3,"e":3.48,"f":6.3e-7},{"t":6,"e":3.48,"f":1.3e-6},{"t":12,"e":3.48,"f":2.5e-6},{"t":18,"e":3.48,"f":5e-6},{"t":24,"e":3.48,"f":1e-5},{"t":30,"e":3.48,"f":2e-5},
{"t":0.5,"e":3.71,"f":1.3e-7},{"t":3,"e":3.71,"f":2.5e-7},{"t":6,"e":3.71,"f":1e-6},{"t":12,"e":3.71,"f":1.3e-6},{"t":18,"e":3.71,"f":1.6e-6},{"t":24,"e":3.71,"f":2e-6},{"t":30,"e":3.71,"f":2.5e-6},
{"t":0.5,"e":3.88,"f":1e-7},{"t":3,"e":3.88,"f":7.9e-8},{"t":6,"e":3.88,"f":2e-7},{"t":12,"e":3.88,"f":1.3e-7},{"t":18,"e":3.88,"f":7.9e-8},{"t":24,"e":3.88,"f":5e-8},{"t":30,"e":3.88,"f":3.2e-8},
{"t":0.5,"e":4.06,"f":1.4e-7},{"t":3,"e":4.06,"f":4e-8},{"t":6,"e":4.06,"f":4e-8},{"t":12,"e":4.06,"f":2.5e-8},{"t":18,"e":4.06,"f":1.6e-8},{"t":24,"e":4.06,"f":1e-8},{"t":30,"e":4.06,"f":6.3e-9},
{"t":0.5,"e":4.26,"f":1.6e-7},{"t":3,"e":4.26,"f":1.6e-8},{"t":6,"e":4.26,"f":1e-8},{"t":12,"e":4.26,"f":6.3e-9},{"t":18,"e":4.26,"f":4e-9},{"t":24,"e":4.26,"f":2.5e-9},{"t":30,"e":4.26,"f":1.6e-9},
{"t":0.5,"e":4.45,"f":1.3e-7},{"t":3,"e":4.45,"f":3.2e-9},
{"t":0.5,"e":4.66,"f":5.6e-8},
{"t":0.5,"e":4.83,"f":1e-9},
{"t":0.5,"e":5.2,"f":1e-9},
{"t":0.5,"e":5.35,"f":2e-8},
{"t":0.5,"e":5.5,"f":1e-9}
],
"aL":[
{"lab":"¹³³Xe","e":0.0925,"ly":1.87e-6,"a1":1.25e-6,"a2":7.4e-7},
{"lab":"⁵⁶Ni","e":0.155,"ly":1.93e-5,"a1":1.3e-5,"a2":7.6e-6},
{"lab":"¹³²Te","e":0.245,"ly":1.34e-4,"a1":9.4e-5,"a2":5.4e-5},
{"lab":"¹³¹I","e":0.371,"ly":6.7e-4,"a1":4.6e-4,"a2":2.7e-4},
{"lab":"¹³²I","e":0.816,"ly":2.78e-3,"a1":1.71e-3,"a2":1.05e-3},
{"lab":"⁵⁶Co","e":1.237,"ly":1.13e-3,"a1":8e-4,"a2":4.75e-4}
],
"aR":[
{"lab":"¹³³Xe","e":0.0845,"ly":3.73e-6,"a1":2.64e-6,"a2":1.51e-6},
{"lab":"⁵⁶Ni","e":0.17,"ly":1.13e-5,"a1":7.45e-6,"a2":4.43e-6},
{"lab":"¹³²Te","e":0.234,"ly":3.36e-4,"a1":2.24e-4,"a2":1.3e-4},
{"lab":"¹³¹I","e":0.369,"ly":6.05e-4,"a1":4e-4,"a2":2.24e-4},
{"lab":"¹³²I","e":0.684,"ly":4.5e-3,"a1":3e-3,"a2":1.73e-3},
{"lab":"⁵⁶Co","e":3.34,"ly":1.9e-4,"a1":1.33e-4,"a2":7.7e-5}
],
"cb":[
{"lo":0.5,"hi":1,"m":0.75},{"lo":1,"hi":1.5,"m":1.25},{"lo":1.5,"hi":2,"m":1.75},{"lo":2,"hi":2.5,"m":2.25},{"lo":2.5,"hi":3,"m":2.75},{"lo":3,"hi":3.5,"m":3.25},{"lo":3.5,"hi":4,"m":3.75},{"lo":4,"hi":4.5,"m":4.25},{"lo":4.5,"hi":5,"m":4.75},{"lo":5,"hi":5.5,"m":5.25},
{"lo":5.5,"hi":6,"m":5.75},{"lo":6,"hi":6.5,"m":6.25},{"lo":6.5,"hi":7,"m":6.75},{"lo":7,"hi":7.5,"m":7.25},{"lo":7.5,"hi":8,"m":7.75},{"lo":8,"hi":8.5,"m":8.25},{"lo":8.5,"hi":9,"m":8.75},{"lo":9,"hi":9.5,"m":9.25},{"lo":9.5,"hi":10,"m":9.75},{"lo":10,"hi":10.5,"m":10.25},
{"lo":10.5,"hi":11,"m":10.75},{"lo":11,"hi":11.5,"m":11.25},{"lo":11.5,"hi":12,"m":11.75},{"lo":12,"hi":12.5,"m":12.25},{"lo":12.5,"hi":13,"m":12.75},{"lo":13,"hi":13.5,"m":13.25},{"lo":13.5,"hi":14,"m":13.75},{"lo":14,"hi":14.5,"m":14.25},{"lo":14.5,"hi":15,"m":14.75},{"lo":15,"hi":15.5,"m":15.25},
{"lo":15.5,"hi":16,"m":15.75},{"lo":16,"hi":16.5,"m":16.25},{"lo":16.5,"hi":17,"m":16.75},{"lo":17,"hi":17.5,"m":17.25},{"lo":17.5,"hi":18,"m":17.75},{"lo":18,"hi":18.5,"m":18.25},{"lo":18.5,"hi":19,"m":18.75},{"lo":19,"hi":19.5,"m":19.25},{"lo":19.5,"hi":20,"m":19.75},{"lo":20,"hi":20.5,"m":20.25},
{"lo":20.5,"hi":21,"m":20.75},{"lo":21,"hi":21.5,"m":21.25},{"lo":21.5,"hi":22,"m":21.75},{"lo":22,"hi":22.5,"m":22.25},{"lo":22.5,"hi":23,"m":22.75},{"lo":23,"hi":23.5,"m":23.25},{"lo":23.5,"hi":24,"m":23.75},{"lo":24,"hi":24.5,"m":24.25},{"lo":24.5,"hi":25,"m":24.75},{"lo":25,"hi":25.5,"m":25.25},
{"lo":25.5,"hi":26,"m":25.75},{"lo":26,"hi":26.5,"m":26.25},{"lo":26.5,"hi":27,"m":26.75},{"lo":27,"hi":27.5,"m":27.25},{"lo":27.5,"hi":28,"m":27.75},{"lo":28,"hi":28.5,"m":28.25},{"lo":28.5,"hi":29,"m":28.75},{"lo":29,"hi":29.5,"m":29.25},{"lo":29.5,"hi":30,"m":29.75}
]
},
"hconcat":[
{
"width":401,"height":399,
"resolve":{"axis":{"x":"independent","y":"independent"}},
"layer":[
{"data":{"name":"L"},"mark":{"type":"line","strokeWidth":1.6,"clip":true},
"encoding":{
"x":{"field":"e","type":"quantitative","scale":{"type":"log","domain":[0.03,7],"nice":false},
"axis":{"orient":"bottom","zindex":1,"grid":true,"gridColor":"black","gridOpacity":1,"gridWidth":1.2,"gridDash":[8,383,8,100],"tickColor":"black","values":[0.1,1],"labelExpr":"datum.value < 0.5 ? '10⁻¹' : '10⁰'","tickSize":-8,"labelFontSize":15,"labelPadding":21,"labelFlush":false,"title":"Eᵧ [MeV]","titleFontSize":17,"titlePadding":6}},
"y":{"field":"f","type":"quantitative","scale":{"type":"log","domain":[1e-8,1e-2],"nice":false},
"axis":{"orient":"left","zindex":1,"grid":true,"gridColor":"black","gridOpacity":1,"gridWidth":1.2,"gridDash":[8,385,8,100],"tickColor":"black","values":[1e-8,1e-7,1e-6,1e-5,1e-4,1e-3,1e-2],"labelExpr":"'10' + ['⁰','⁻¹','⁻²','⁻³','⁻⁴','⁻⁵','⁻⁶','⁻⁷','⁻⁸'][round(-log(datum.value)/LN10)]","tickSize":-8,"labelFontSize":15,"labelPadding":20,"title":"Eᵧ Fᵧ [MeV s⁻¹ cm⁻²]","titleFontSize":17,"titlePadding":8}},
"color":{"field":"t","type":"quantitative","scale":{"scheme":"magma","domain":[0.5,30]},"legend":null}
}},
{"data":{"name":"aL"},"mark":{"type":"rule","color":"#1a1a1a","strokeWidth":1.2},
"encoding":{
"x":{"field":"e","type":"quantitative","axis":{"orient":"bottom","zindex":1,"grid":true,"gridColor":"black","gridOpacity":1,"gridWidth":1,"gridDash":[4,391,4,100],"tickColor":"black","values":[0.04,0.05,0.06,0.07,0.08,0.09,0.2,0.3,0.4,0.5,0.6,0.7,0.8,0.9,2,3,4,5,6],"tickSize":-4,"labels":false,"title":null}},
"y":{"field":"a1","type":"quantitative","axis":{"orient":"left","zindex":1,"grid":true,"gridColor":"black","gridOpacity":1,"gridWidth":1,"gridDash":[4,393,4,100],"tickColor":"black","values":[2e-8,3e-8,4e-8,5e-8,6e-8,7e-8,8e-8,9e-8,2e-7,3e-7,4e-7,5e-7,6e-7,7e-7,8e-7,9e-7,2e-6,3e-6,4e-6,5e-6,6e-6,7e-6,8e-6,9e-6,2e-5,3e-5,4e-5,5e-5,6e-5,7e-5,8e-5,9e-5,2e-4,3e-4,4e-4,5e-4,6e-4,7e-4,8e-4,9e-4,2e-3,3e-3,4e-3,5e-3,6e-3,7e-3,8e-3,9e-3],"tickSize":-4,"labels":false,"title":null}},
"y2":{"field":"a2"}}},
{"data":{"name":"aL"},"mark":{"type":"point","shape":"M-1,-2L0,0L1,-2","filled":false,"stroke":"#1a1a1a","strokeWidth":1.2,"size":25,"opacity":1},
"encoding":{
"x":{"field":"e","type":"quantitative","axis":null},
"y":{"field":"a2","type":"quantitative","axis":null}}},
{"data":{"name":"aL"},"mark":{"type":"text","font":"DejaVu Serif","fontSize":11,"color":"#222222","baseline":"middle","align":"center"},
"encoding":{
"x":{"field":"e","type":"quantitative","axis":null},
"y":{"field":"ly","type":"quantitative","axis":null},
"text":{"field":"lab"}}},
{"data":{"values":[{}]},"mark":{"type":"text","text":"θ","font":"DejaVu Serif","fontSize":17,"fontStyle":"italic","align":"left","baseline":"alphabetic","dx":-36,"dy":-6,"color":"#222222"},
"encoding":{"x":{"datum":0.45,"type":"quantitative","axis":null},"y":{"datum":0.01,"type":"quantitative","axis":null}}},
{"data":{"values":[{}]},"mark":{"type":"text","text":"obs","font":"DejaVu Serif","fontSize":11,"align":"left","baseline":"alphabetic","dx":-26,"dy":-3,"color":"#222222"},
"encoding":{"x":{"datum":0.45,"type":"quantitative","axis":null},"y":{"datum":0.01,"type":"quantitative","axis":null}}},
{"data":{"values":[{}]},"mark":{"type":"text","text":"= 0°","font":"DejaVu Serif","fontSize":17,"align":"left","baseline":"alphabetic","dx":-4,"dy":-6,"color":"#222222"},
"encoding":{"x":{"datum":0.45,"type":"quantitative","axis":null},"y":{"datum":0.01,"type":"quantitative","axis":null}}}
]
},
{
"width":401,"height":399,
"resolve":{"axis":{"x":"independent","y":"independent"}},
"layer":[
{"data":{"name":"R"},"mark":{"type":"line","strokeWidth":1.6,"clip":true},
"encoding":{
"x":{"field":"e","type":"quantitative","scale":{"type":"log","domain":[0.03,7],"nice":false},
"axis":{"orient":"bottom","zindex":1,"grid":true,"gridColor":"black","gridOpacity":1,"gridWidth":1.2,"gridDash":[8,383,8,100],"tickColor":"black","values":[0.1,1],"labelExpr":"datum.value < 0.5 ? '10⁻¹' : '10⁰'","tickSize":-8,"labelFontSize":15,"labelPadding":21,"labelFlush":false,"title":"Eᵧ [MeV]","titleFontSize":17,"titlePadding":6}},
"y":{"field":"f","type":"quantitative","scale":{"type":"log","domain":[1e-8,1e-2],"nice":false},
"axis":{"orient":"left","zindex":1,"grid":true,"gridColor":"black","gridOpacity":1,"gridWidth":1.2,"gridDash":[8,385,8,100],"tickColor":"black","values":[1e-8,1e-7,1e-6,1e-5,1e-4,1e-3,1e-2],"tickSize":-8,"labels":false,"title":null}},
"color":{"field":"t","type":"quantitative","scale":{"scheme":"magma","domain":[0.5,30]},"legend":null}
}},
{"data":{"name":"aR"},"mark":{"type":"rule","color":"#1a1a1a","strokeWidth":1.2},
"encoding":{
"x":{"field":"e","type":"quantitative","axis":{"orient":"bottom","zindex":1,"grid":true,"gridColor":"black","gridOpacity":1,"gridWidth":1,"gridDash":[4,391,4,100],"tickColor":"black","values":[0.04,0.05,0.06,0.07,0.08,0.09,0.2,0.3,0.4,0.5,0.6,0.7,0.8,0.9,2,3,4,5,6],"tickSize":-4,"labels":false,"title":null}},
"y":{"field":"a1","type":"quantitative","axis":{"orient":"left","zindex":1,"grid":true,"gridColor":"black","gridOpacity":1,"gridWidth":1,"gridDash":[4,393,4,100],"tickColor":"black","values":[2e-8,3e-8,4e-8,5e-8,6e-8,7e-8,8e-8,9e-8,2e-7,3e-7,4e-7,5e-7,6e-7,7e-7,8e-7,9e-7,2e-6,3e-6,4e-6,5e-6,6e-6,7e-6,8e-6,9e-6,2e-5,3e-5,4e-5,5e-5,6e-5,7e-5,8e-5,9e-5,2e-4,3e-4,4e-4,5e-4,6e-4,7e-4,8e-4,9e-4,2e-3,3e-3,4e-3,5e-3,6e-3,7e-3,8e-3,9e-3],"tickSize":-4,"labels":false,"title":null}},
"y2":{"field":"a2"}}},
{"data":{"name":"aR"},"mark":{"type":"point","shape":"M-1,-2L0,0L1,-2","filled":false,"stroke":"#1a1a1a","strokeWidth":1.2,"size":25,"opacity":1},
"encoding":{
"x":{"field":"e","type":"quantitative","axis":null},
"y":{"field":"a2","type":"quantitative","axis":null}}},
{"data":{"name":"aR"},"mark":{"type":"text","font":"DejaVu Serif","fontSize":11,"color":"#222222","baseline":"middle","align":"center"},
"encoding":{
"x":{"field":"e","type":"quantitative","axis":null},
"y":{"field":"ly","type":"quantitative","axis":null},
"text":{"field":"lab"}}},
{"data":{"values":[{}]},"mark":{"type":"text","text":"θ","font":"DejaVu Serif","fontSize":17,"fontStyle":"italic","align":"left","baseline":"alphabetic","dx":-41,"dy":-6,"color":"#222222"},
"encoding":{"x":{"datum":0.45,"type":"quantitative","axis":null},"y":{"datum":0.01,"type":"quantitative","axis":null}}},
{"data":{"values":[{}]},"mark":{"type":"text","text":"obs","font":"DejaVu Serif","fontSize":11,"align":"left","baseline":"alphabetic","dx":-31,"dy":-3,"color":"#222222"},
"encoding":{"x":{"datum":0.45,"type":"quantitative","axis":null},"y":{"datum":0.01,"type":"quantitative","axis":null}}},
{"data":{"values":[{}]},"mark":{"type":"text","text":"= 90°","font":"DejaVu Serif","fontSize":17,"align":"left","baseline":"alphabetic","dx":-3,"dy":-6,"color":"#222222"},
"encoding":{"x":{"datum":0.45,"type":"quantitative","axis":null},"y":{"datum":0.01,"type":"quantitative","axis":null}}}
]
},
{
"width":17,"height":399,
"data":{"name":"cb"},
"mark":{"type":"rect"},
"encoding":{
"y":{"field":"lo","type":"quantitative","scale":{"domain":[0.5,30],"nice":false,"zero":false},
"axis":{"orient":"right","zindex":1,"grid":true,"gridColor":"black","gridOpacity":1,"gridWidth":1.2,"gridDash":[5,100],"tickColor":"black","values":[1,2,3,4,5,6,7,8,9,10,11,12,13,14,15,16,17,18,19,20,21,22,23,24,25,26,27,28,29,30],"labelExpr":"datum.value % 5 == 0 ? datum.label : ''","tickSize":-5,"labelFontSize":14,"labelPadding":19,"labelOverlap":false,"title":"Time [days]","titleAngle":270,"titleFontSize":19,"titlePadding":24}},
"y2":{"field":"hi"},
"color":{"field":"m","type":"quantitative","scale":{"scheme":"magma","domain":[0.5,30]},"legend":null}
}
}
]
}
